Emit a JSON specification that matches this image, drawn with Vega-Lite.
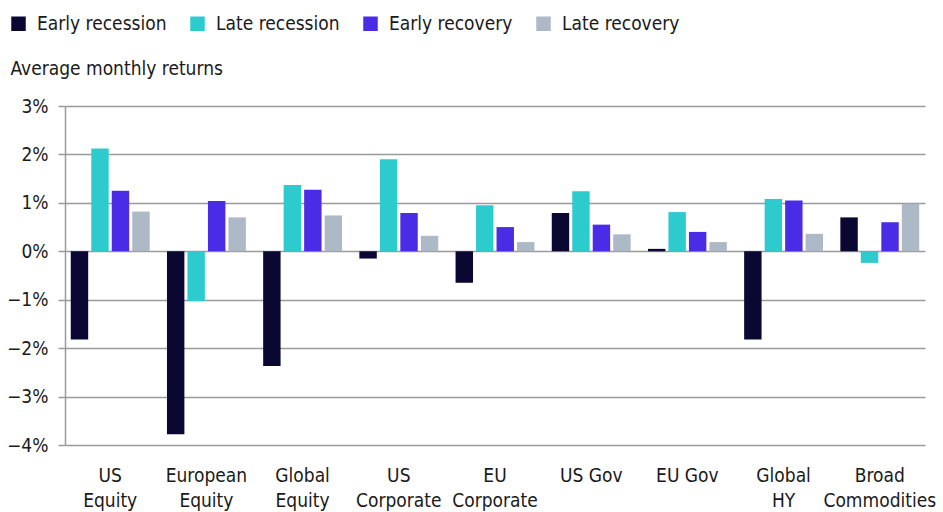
{
  "$schema": "https://vega.github.io/schema/vega-lite/v6.json",
  "width": 860,
  "height": 339,
  "autosize": {"type": "none"},
  "padding": {"left": 65, "top": 106, "right": 18, "bottom": 67},
  "background": "white",
  "config": {
    "view": {"stroke": null},
    "font": "'DejaVu Sans Condensed', Roboto, sans-serif"
  },
  "data": {
    "values": [
      {"asset": "US|Equity", "phase": "Early recession", "value": -1.82},
      {"asset": "US|Equity", "phase": "Late recession", "value": 2.12},
      {"asset": "US|Equity", "phase": "Early recovery", "value": 1.25},
      {"asset": "US|Equity", "phase": "Late recovery", "value": 0.82},
      {"asset": "European|Equity", "phase": "Early recession", "value": -3.78},
      {"asset": "European|Equity", "phase": "Late recession", "value": -1.03},
      {"asset": "European|Equity", "phase": "Early recovery", "value": 1.04},
      {"asset": "European|Equity", "phase": "Late recovery", "value": 0.70},
      {"asset": "Global|Equity", "phase": "Early recession", "value": -2.37},
      {"asset": "Global|Equity", "phase": "Late recession", "value": 1.37},
      {"asset": "Global|Equity", "phase": "Early recovery", "value": 1.27},
      {"asset": "Global|Equity", "phase": "Late recovery", "value": 0.74},
      {"asset": "US|Corporate", "phase": "Early recession", "value": -0.15},
      {"asset": "US|Corporate", "phase": "Late recession", "value": 1.90},
      {"asset": "US|Corporate", "phase": "Early recovery", "value": 0.79},
      {"asset": "US|Corporate", "phase": "Late recovery", "value": 0.32},
      {"asset": "EU|Corporate", "phase": "Early recession", "value": -0.65},
      {"asset": "EU|Corporate", "phase": "Late recession", "value": 0.95},
      {"asset": "EU|Corporate", "phase": "Early recovery", "value": 0.50},
      {"asset": "EU|Corporate", "phase": "Late recovery", "value": 0.19},
      {"asset": "US Gov", "phase": "Early recession", "value": 0.79},
      {"asset": "US Gov", "phase": "Late recession", "value": 1.24},
      {"asset": "US Gov", "phase": "Early recovery", "value": 0.55},
      {"asset": "US Gov", "phase": "Late recovery", "value": 0.35},
      {"asset": "EU Gov", "phase": "Early recession", "value": 0.05},
      {"asset": "EU Gov", "phase": "Late recession", "value": 0.81},
      {"asset": "EU Gov", "phase": "Early recovery", "value": 0.40},
      {"asset": "EU Gov", "phase": "Late recovery", "value": 0.19},
      {"asset": "Global|HY", "phase": "Early recession", "value": -1.82},
      {"asset": "Global|HY", "phase": "Late recession", "value": 1.08},
      {"asset": "Global|HY", "phase": "Early recovery", "value": 1.05},
      {"asset": "Global|HY", "phase": "Late recovery", "value": 0.36},
      {"asset": "Broad|Commodities", "phase": "Early recession", "value": 0.70},
      {"asset": "Broad|Commodities", "phase": "Late recession", "value": -0.24},
      {"asset": "Broad|Commodities", "phase": "Early recovery", "value": 0.60},
      {"asset": "Broad|Commodities", "phase": "Late recovery", "value": 0.98}
    ]
  },
  "mark": {"type": "bar"},
  "encoding": {
    "x": {
      "field": "asset",
      "type": "nominal",
      "sort": ["US|Equity", "European|Equity", "Global|Equity", "US|Corporate", "EU|Corporate", "US Gov", "EU Gov", "Global|HY", "Broad|Commodities"],
      "scale": {"paddingInner": 0.18, "paddingOuter": 0.06},
      "axis": {
        "title": null,
        "labelAngle": 0,
        "labelExpr": "split(datum.label, '|')",
        "ticks": false,
        "domain": false,
        "labelPadding": 21,
        "labelFontSize": 19,
        "labelLineHeight": 25,
        "labelColor": "#1a1a1a",
        "labelBaseline": "top"
      }
    },
    "xOffset": {
      "field": "phase",
      "type": "nominal",
      "sort": ["Early recession", "Late recession", "Early recovery", "Late recovery"],
      "scale": {"paddingInner": 0.15}
    },
    "y": {
      "field": "value",
      "type": "quantitative",
      "scale": {"domain": [-4, 3], "nice": false},
      "axis": {
        "values": [-4, -3, -2, -1, 0, 1, 2, 3],
        "format": "d",
        "labelExpr": "datum.label + '%'",
        "labelFontSize": 19,
        "labelColor": "#1a1a1a",
        "labelPadding": 10,
        "tickSize": 7,
        "tickColor": "#9a9a9a",
        "tickWidth": 1.5,
        "domainColor": "#9a9a9a",
        "domainWidth": 1.5,
        "grid": true,
        "gridColor": "#9a9a9a",
        "gridWidth": 1.5,
        "title": "Average monthly returns",
        "titleAngle": 0,
        "titleAlign": "left",
        "titleBaseline": "middle",
        "titleX": -55,
        "titleY": -38,
        "titleFontSize": 19,
        "titleFontWeight": "normal",
        "titleColor": "#1a1a1a"
      }
    },
    "color": {
      "field": "phase",
      "type": "nominal",
      "sort": ["Early recession", "Late recession", "Early recovery", "Late recovery"],
      "scale": {
        "domain": ["Early recession", "Late recession", "Early recovery", "Late recovery"],
        "range": ["#0a0733", "#2ecbce", "#4a2ce6", "#adb9c6"]
      },
      "legend": {
        "title": null,
        "orient": "none",
        "direction": "horizontal",
        "legendX": -56,
        "legendY": -92,
        "symbolType": "square",
        "symbolSize": 210,
        "symbolStrokeWidth": 0,
        "labelFontSize": 19,
        "labelColor": "#1a1a1a",
        "labelOffset": 9,
        "columnPadding": 21
      }
    }
  }
}
